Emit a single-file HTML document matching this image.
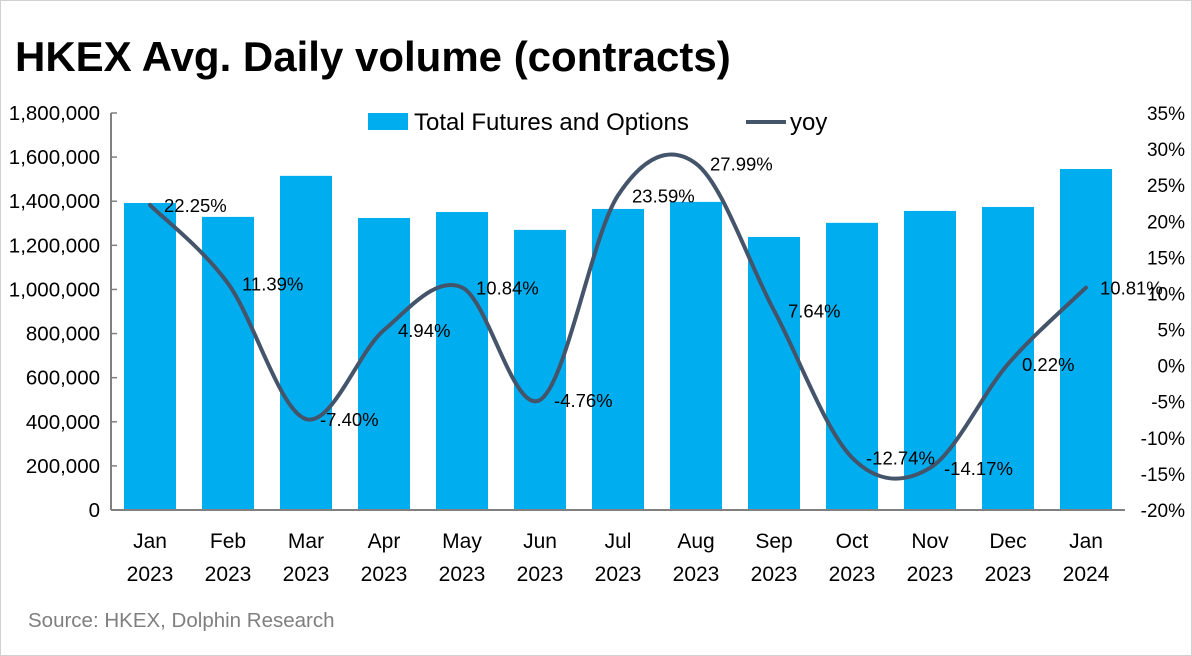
<!DOCTYPE html>
<html><head><meta charset="utf-8"><style>
body{margin:0;background:#fff;}
svg{display:block;font-family:"Liberation Sans",sans-serif;}
</style></head><body>
<svg id="c" width="1192" height="656">
<rect x="0.5" y="0.5" width="1191" height="655" fill="#fff" stroke="#d0d0d0"/>
<text x="15" y="71" font-size="42" font-weight="bold" fill="#000">HKEX Avg. Daily volume (contracts)</text>
<text x="28" y="627" font-size="20.5" fill="#7f7f7f">Source: HKEX, Dolphin Research</text>
<g>
<rect x="368" y="113" width="40" height="17" fill="#00AEEF"/>
<text x="414" y="130" font-size="24">Total Futures and Options</text>
<line x1="746" y1="122" x2="786" y2="122" stroke="#44546A" stroke-width="4"/>
<text x="790" y="130" font-size="24">yoy</text>
</g>
<g id="g"></g>
</svg>
<script>
const months=["Jan","Feb","Mar","Apr","May","Jun","Jul","Aug","Sep","Oct","Nov","Dec","Jan"];
const years=["2023","2023","2023","2023","2023","2023","2023","2023","2023","2023","2023","2023","2024"];
const volume=[1392000,1329000,1515000,1324000,1351000,1270000,1365000,1397000,1238000,1302000,1356000,1374000,1546000];
const yoy=[22.25,11.39,-7.40,4.94,10.84,-4.76,23.59,27.99,7.64,-12.74,-14.17,0.22,10.81];
const leftTicks=[0,200000,400000,600000,800000,1000000,1200000,1400000,1600000,1800000];
const rightTicks=[-20,-15,-10,-5,0,5,10,15,20,25,30,35];
const NS="http://www.w3.org/2000/svg",g=document.getElementById('g');
const X0=111,X1=1125,Y0=510,Y1=113,band=(X1-X0)/months.length;
const xc=i=>X0+band*(i+0.5);
const yL=v=>Y0-(v/1800000)*(Y0-Y1);
const yR=v=>Y0-((v+20)/55)*(Y0-Y1);
function el(t,a,txt){const e=document.createElementNS(NS,t);for(const k in a)e.setAttribute(k,a[k]);if(txt!=null)e.textContent=txt;g.appendChild(e);return e;}
volume.forEach((v,i)=>{const e=el('rect',{x:xc(i)-26,y:yL(v),width:52,height:Y0-yL(v),fill:'#00AEEF'});

});
let ax=el('line',{x1:X0,y1:Y1,x2:X0,y2:Y0,stroke:'#808080','stroke-width':2});


let bx=el('line',{x1:X0,y1:Y0,x2:X1,y2:Y0,stroke:'#808080','stroke-width':2});


leftTicks.forEach(v=>{const t=el('text',{x:100,y:yL(v)+7,'font-size':20.5,'text-anchor':'end'},v.toLocaleString('en-US'));


const tk=el('line',{x1:X0,y1:yL(v),x2:X0+6,y2:yL(v),stroke:'#808080','stroke-width':1.5});

});
rightTicks.forEach(v=>{const t=el('text',{x:1185,y:yR(v)+7,'font-size':19,'text-anchor':'end'},v+'%');

});
months.forEach((m,i)=>{const a=el('text',{x:xc(i),y:548,'font-size':21,'text-anchor':'middle'},m);


const b=el('text',{x:xc(i),y:581,'font-size':21,'text-anchor':'middle'},years[i]);

});
const P=yoy.map((v,i)=>[xc(i),yR(v)]);
let d='M'+P[0][0]+','+P[0][1];
for(let i=0;i<P.length-1;i++){const p0=P[i-1]||P[i],p1=P[i],p2=P[i+1],p3=P[i+2]||p2,s=1/3;
d+=` C${p1[0]+(p2[0]-p0[0])*s/2},${p1[1]+(p2[1]-p0[1])*s/2} ${p2[0]-(p3[0]-p1[0])*s/2},${p2[1]-(p3[1]-p1[1])*s/2} ${p2[0]},${p2[1]}`;}
const ln=el('path',{d:d,fill:'none',stroke:'#44546A','stroke-width':4,'stroke-linecap':'round'});


yoy.forEach((v,i)=>{const t=el('text',{x:xc(i)+14,y:yR(v)+7,'font-size':18.5},v.toFixed(2)+'%');

});
</script>
</body></html>
